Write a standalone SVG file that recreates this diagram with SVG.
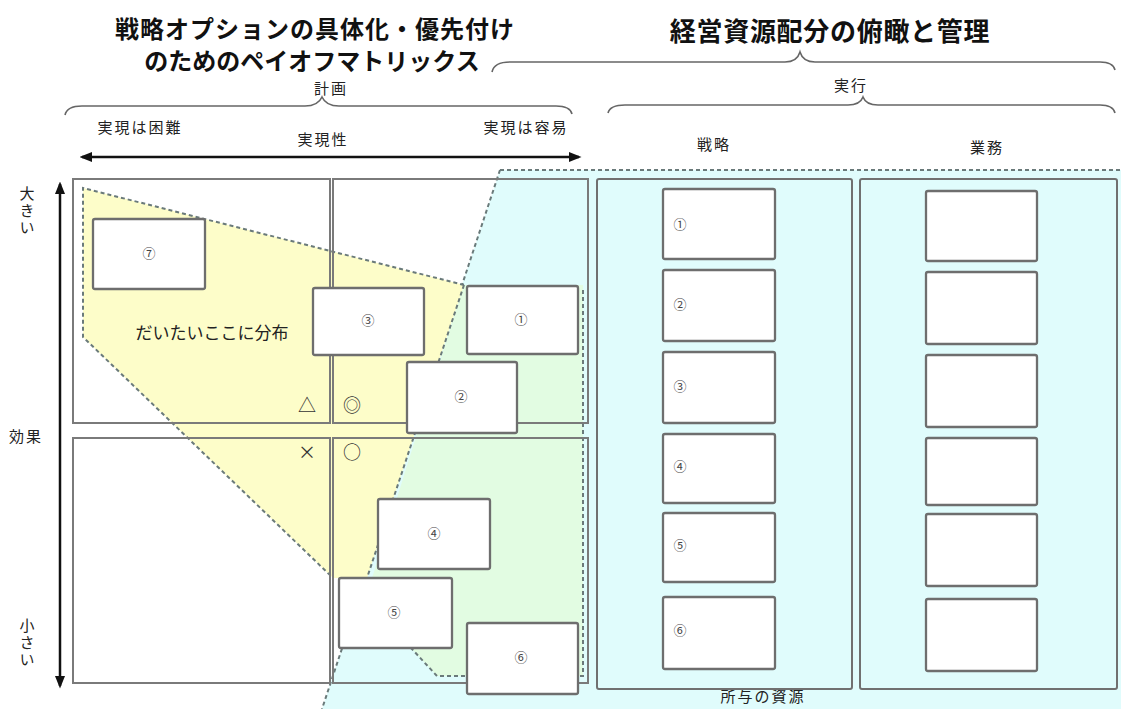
<svg xmlns="http://www.w3.org/2000/svg" width="1121" height="709" viewBox="0 0 1121 709">
<defs>
<style>
.t{font-family:"Noto Sans CJK JP","Noto Sans CJK SC",sans-serif;fill:#222}
.title{font-weight:bold;fill:#111}
.lbl{font-size:15px;letter-spacing:2px}
.num{font-size:13px;fill:#444}
.sym{font-size:18px;fill:#333}
.quad{fill:none;stroke:#7a7a7a;stroke-width:2}
.box{fill:#fff;stroke:#6e6e6e;stroke-width:2.3}
.panel{fill:#e0fcfc;stroke:#707070;stroke-width:2}
.dash{fill:none;stroke:#6a7a7a;stroke-width:2;stroke-dasharray:4 3}
.brace{fill:none;stroke:#666;stroke-width:1.6}
.axis{stroke:#111;stroke-width:2.5;fill:none}
</style>
<marker id="ah" viewBox="0 0 10 10" refX="8" refY="5" markerWidth="5" markerHeight="5" orient="auto-start-reverse">
<path d="M0,1 L10,5 L0,9 z" fill="#111"/>
</marker>
</defs>
<rect width="1121" height="709" fill="#fff"/>

<g id="regions">
<polygon points="500,170 1121,170 1121,709 322,709" fill="#e0fcfc"/>
<line x1="500" y1="170" x2="322" y2="709" class="dash"/>
<line x1="500" y1="170" x2="1121" y2="170" class="dash" stroke-dasharray="3 3"/>
<polygon points="464,285 583,285 583,676 437,676 411,648 372,578 415,440" fill="#e2fce2"/>
<polyline points="583,290 583,676 437,676 411,648" class="dash" stroke-dasharray="3 3"/>
<polygon points="83,188 464,285 367,578 333,578 83,337" fill="#fdfdc9"/>
<polyline points="464,285 83,188 83,337 333,578" class="dash"/>
<line x1="464" y1="285" x2="367" y2="578" class="dash"/>
</g>

<g id="quadrants">
<rect class="quad" x="73" y="179" width="257" height="244"/>
<rect class="quad" x="333" y="179" width="255" height="244"/>
<rect class="quad" x="73" y="438" width="257" height="245"/>
<rect class="quad" x="333" y="438" width="255" height="245"/>
</g>

<g id="titles">
<text class="t title" x="315" y="38" font-size="24" letter-spacing="1" text-anchor="middle">戦略オプションの具体化・優先付け</text>
<text class="t title" x="312" y="70" font-size="24" text-anchor="middle">のためのペイオフマトリックス</text>
<text class="t title" x="830" y="41" font-size="26" letter-spacing="0.7" text-anchor="middle">経営資源配分の俯瞰と管理</text>
<text class="t lbl" x="331" y="94" text-anchor="middle">計画</text>
<text class="t lbl" x="851" y="91" text-anchor="middle">実行</text>
<text class="t lbl" x="140" y="133" text-anchor="middle">実現は困難</text>
<text class="t lbl" x="526" y="133" text-anchor="middle">実現は容易</text>
<text class="t lbl" x="323" y="145" text-anchor="middle">実現性</text>
<text class="t lbl" x="714" y="150" text-anchor="middle">戦略</text>
<text class="t lbl" x="987" y="153" text-anchor="middle">業務</text>
<text class="t lbl" x="26" y="442" text-anchor="middle">効果</text>
<text class="t lbl" x="27" y="186" style="writing-mode:vertical-rl">大きい</text>
<text class="t lbl" x="27" y="618" style="writing-mode:vertical-rl">小さい</text>
<text class="t" x="212" y="339" text-anchor="middle" font-size="17">だいたいここに分布</text>
<text class="t lbl" x="763" y="702" text-anchor="middle">所与の資源</text>
<text class="t sym" x="307" y="412" text-anchor="middle">△</text>
<text class="t sym" x="352" y="412" text-anchor="middle">◎</text>
<text class="t sym" x="307" y="459" text-anchor="middle">×</text>
<text class="t sym" x="352" y="459" text-anchor="middle">○</text>
</g>

<g id="braces">
<path class="brace" d="M492,72 Q494,62 510,62 L785,62 Q797,62 800,52 Q803,62 815,62 L1100,62 Q1113,62 1115,70"/>
<path class="brace" d="M65,115 Q67,106 82,106 L305,106 Q318,106 322,97 Q326,106 339,106 L556,106 Q570,106 572,114"/>
<path class="brace" d="M608,113 Q610,105 625,105 L848,105 Q860,105 863,97 Q866,105 878,105 L1100,105 Q1113,105 1115,113"/>
</g>

<g id="connectors">
<line class="axis" x1="82" y1="157" x2="579" y2="157" marker-start="url(#ah)" marker-end="url(#ah)"/>
<line class="axis" x1="60" y1="184" x2="60" y2="686" marker-start="url(#ah)" marker-end="url(#ah)"/>
</g>

<g id="matrix-options">
<g id="opt7"><rect class="box" x="93" y="219" width="112" height="70" rx="2"/><text class="t num" x="149" y="258" text-anchor="middle">⑦</text></g>
<g id="opt3"><rect class="box" x="313" y="288" width="111" height="67" rx="2"/><text class="t num" x="368" y="325" text-anchor="middle">③</text></g>
<g id="opt1"><rect class="box" x="467" y="286" width="111" height="68" rx="2"/><text class="t num" x="521" y="324" text-anchor="middle">①</text></g>
<g id="opt2"><rect class="box" x="407" y="362" width="110" height="71" rx="2"/><text class="t num" x="461" y="401" text-anchor="middle">②</text></g>
<g id="opt4"><rect class="box" x="378" y="499" width="112" height="70" rx="2"/><text class="t num" x="434" y="538" text-anchor="middle">④</text></g>
<g id="opt5"><rect class="box" x="339" y="578" width="113" height="70" rx="2"/><text class="t num" x="394" y="617" text-anchor="middle">⑤</text></g>
<g id="opt6"><rect class="box" x="467" y="623" width="111" height="71" rx="2"/><text class="t num" x="521" y="662" text-anchor="middle">⑥</text></g>
</g>

<g id="panel-strategy">
<rect class="panel" x="597" y="179" width="255" height="510" rx="2"/>
<g id="s1"><rect class="box" x="663" y="189" width="112" height="70" rx="2"/><text class="t num" x="680" y="229" text-anchor="middle">①</text></g>
<g id="s2"><rect class="box" x="663" y="270" width="112" height="71" rx="2"/><text class="t num" x="680" y="309" text-anchor="middle">②</text></g>
<g id="s3"><rect class="box" x="663" y="352" width="112" height="71" rx="2"/><text class="t num" x="680" y="391" text-anchor="middle">③</text></g>
<g id="s4"><rect class="box" x="663" y="434" width="112" height="69" rx="2"/><text class="t num" x="680" y="471" text-anchor="middle">④</text></g>
<g id="s5"><rect class="box" x="663" y="513" width="112" height="69" rx="2"/><text class="t num" x="680" y="550" text-anchor="middle">⑤</text></g>
<g id="s6"><rect class="box" x="663" y="597" width="112" height="72" rx="2"/><text class="t num" x="680" y="635" text-anchor="middle">⑥</text></g>
</g>

<g id="panel-operations">
<rect class="panel" x="860" y="179" width="257" height="510" rx="2"/>
<g id="o1"><rect class="box" x="926" y="191" width="111" height="70" rx="2"/></g>
<g id="o2"><rect class="box" x="926" y="272" width="111" height="72" rx="2"/></g>
<g id="o3"><rect class="box" x="926" y="355" width="111" height="72" rx="2"/></g>
<g id="o4"><rect class="box" x="926" y="438" width="111" height="67" rx="2"/></g>
<g id="o5"><rect class="box" x="926" y="514" width="111" height="72" rx="2"/></g>
<g id="o6"><rect class="box" x="926" y="599" width="111" height="72" rx="2"/></g>
</g>
</svg>
